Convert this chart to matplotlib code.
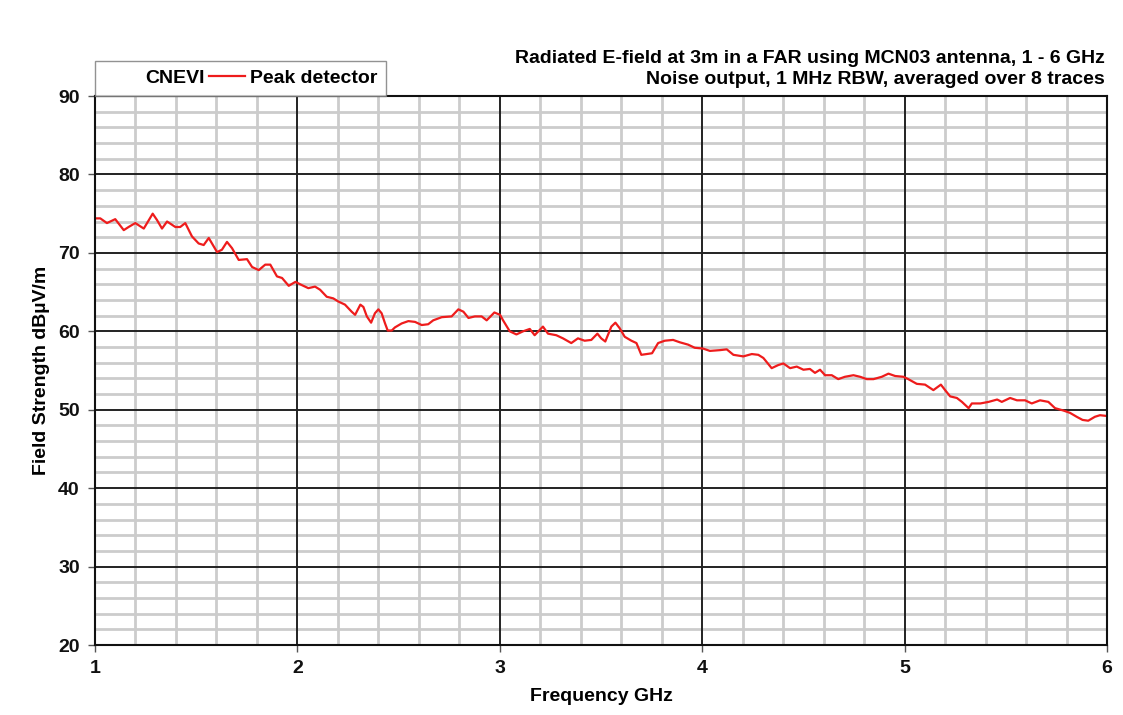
import numpy as np
import matplotlib.pyplot as plt
from matplotlib.lines import Line2D
from matplotlib.ticker import MultipleLocator

plt.rcParams['font.family'] = ['Liberation Sans', 'DejaVu Sans']
plt.rcParams['font.weight'] = 'bold'

# Peak detector trace (GHz, dBuV/m)
freq_ghz = [
    1.000, 1.026, 1.059, 1.100, 1.142, 1.166, 1.199, 1.241, 1.285, 1.306,
    1.331, 1.356, 1.397, 1.421, 1.446, 1.479, 1.512, 1.537, 1.562, 1.603,
    1.627, 1.652, 1.677, 1.710, 1.751, 1.776, 1.809, 1.841, 1.866, 1.899,
    1.924, 1.957, 1.990, 2.021, 2.054, 2.087, 2.112, 2.145, 2.177, 2.202,
    2.235, 2.268, 2.285, 2.311, 2.326, 2.343, 2.364, 2.383, 2.400, 2.416,
    2.433, 2.446, 2.466, 2.482, 2.515, 2.548, 2.581, 2.614, 2.646, 2.671,
    2.713, 2.762, 2.795, 2.820, 2.845, 2.877, 2.910, 2.935, 2.973, 3.001,
    3.016, 3.049, 3.082, 3.115, 3.148, 3.172, 3.213, 3.238, 3.279, 3.312,
    3.353, 3.386, 3.419, 3.452, 3.482, 3.501, 3.521, 3.551, 3.571, 3.592,
    3.617, 3.650, 3.675, 3.699, 3.724, 3.752, 3.782, 3.815, 3.856, 3.889,
    3.930, 3.963, 4.004, 4.038, 4.088, 4.121, 4.154, 4.203, 4.245, 4.277,
    4.302, 4.343, 4.376, 4.401, 4.434, 4.467, 4.500, 4.532, 4.557, 4.582,
    4.607, 4.640, 4.672, 4.705, 4.747, 4.780, 4.813, 4.846, 4.887, 4.920,
    4.953, 4.994, 5.018, 5.060, 5.101, 5.142, 5.179, 5.200, 5.225, 5.258,
    5.283, 5.316, 5.332, 5.374, 5.415, 5.457, 5.480, 5.521, 5.555, 5.595,
    5.628, 5.669, 5.710, 5.743, 5.784, 5.817, 5.850, 5.879, 5.907, 5.940,
    5.965, 6.000,
]
peak_dbuv = [
    74.4, 74.4, 73.8, 74.3, 72.9, 73.3, 73.8, 73.1, 75.0, 74.2,
    73.1, 74.0, 73.3, 73.3, 73.8, 72.1, 71.2, 71.0, 71.9, 70.1,
    70.4, 71.4, 70.6, 69.1, 69.2, 68.2, 67.8, 68.5, 68.5, 67.0,
    66.8, 65.8, 66.3, 65.9, 65.5, 65.7, 65.3, 64.4, 64.2, 63.8,
    63.4, 62.5, 62.1, 63.4, 63.1, 61.9, 61.1, 62.3, 62.8, 62.3,
    61.0, 60.1, 60.1, 60.5, 61.0, 61.3, 61.2, 60.8, 60.9, 61.4,
    61.8, 61.9, 62.8, 62.5, 61.7, 61.9, 61.9, 61.4, 62.4, 62.1,
    61.4, 60.0, 59.6, 60.0, 60.3, 59.5, 60.6, 59.7, 59.5, 59.1,
    58.5, 59.1, 58.8, 58.9, 59.7, 59.1, 58.7, 60.6, 61.1, 60.4,
    59.3, 58.8, 58.5, 57.0, 57.1, 57.2, 58.5, 58.8, 58.9, 58.6,
    58.3, 57.9, 57.8, 57.5, 57.6, 57.7, 57.0, 56.8, 57.1, 57.0,
    56.6, 55.3, 55.7, 55.9, 55.3, 55.5, 55.1, 55.2, 54.7, 55.1,
    54.4, 54.4, 53.9, 54.2, 54.4, 54.2, 53.9, 53.9, 54.2, 54.6,
    54.3, 54.2, 53.9, 53.3, 53.2, 52.5, 53.2, 52.5, 51.7, 51.5,
    51.0, 50.2, 50.8, 50.8, 51.0, 51.3, 51.0, 51.5, 51.2, 51.2,
    50.8, 51.2, 51.0, 50.2, 49.9, 49.6, 49.1, 48.7, 48.6, 49.1,
    49.3, 49.2,
]

title_lines = "Radiated E-field at 3m in a FAR using MCN03 antenna, 1 - 6 GHz\nNoise output, 1 MHz RBW, averaged over 8 traces"

fig = plt.figure(figsize=(11.23, 7.15), dpi=100)
ax = fig.add_axes([0.0846, 0.0979, 0.9012, 0.7678])

ax.plot(freq_ghz, peak_dbuv, color='#ee1c1c', lw=1.6, zorder=3)

ax.set_xlim(1, 6)
ax.set_ylim(20, 90)
ax.xaxis.set_major_locator(MultipleLocator(1))
ax.xaxis.set_minor_locator(MultipleLocator(0.2))
ax.yaxis.set_major_locator(MultipleLocator(10))
ax.yaxis.set_minor_locator(MultipleLocator(2))
ax.set_axisbelow(True)
ax.grid(which='minor', color='#cccccc', lw=2.0)
# major grid on top of the minor one
for xv in ax.get_xticks():
    ax.axvline(xv, color='#222222', lw=1.4, zorder=2)
for yv in ax.get_yticks():
    ax.axhline(yv, color='#222222', lw=1.4, zorder=2)
ax.set_xlim(1, 6)
ax.set_ylim(20, 90)

ax.tick_params(which='major', length=5, width=1, colors='#555555', labelcolor='#111111',
               labelsize=14, pad=6)
ax.tick_params(which='minor', length=0)
for lbl in ax.get_xticklabels() + ax.get_yticklabels():
    lbl.set_fontweight('bold')
for s in ax.spines.values():
    s.set_linewidth(1.5)
    s.set_color('#111111')
    s.set_zorder(4)

ax.set_xlabel('Frequency GHz', fontsize=14, fontweight='bold', labelpad=8)
ax.set_ylabel('Field Strength dBµV/m', fontsize=14, fontweight='bold', labelpad=6)

fig.text(0.984, 0.903, title_lines, ha='right', va='center', fontsize=14,
         fontweight='bold', linespacing=1.33)

handles = [Line2D([], [], color='none'), Line2D([], [], color='#ee1c1c', lw=1.6)]
leg = ax.legend(handles, ['CNEVI', 'Peak detector'], ncol=2, loc='lower left',
                bbox_to_anchor=(0.0, 1.0), borderaxespad=0, fancybox=False,
                fontsize=14, handlelength=1.85, handletextpad=0.26, columnspacing=0.26,
                borderpad=0.45, frameon=True)
leg.get_frame().set_edgecolor('#777777')
leg.get_frame().set_linewidth(1.0)
for t in leg.get_texts():
    t.set_fontweight('bold')

fig.savefig('out.png', dpi=100)
